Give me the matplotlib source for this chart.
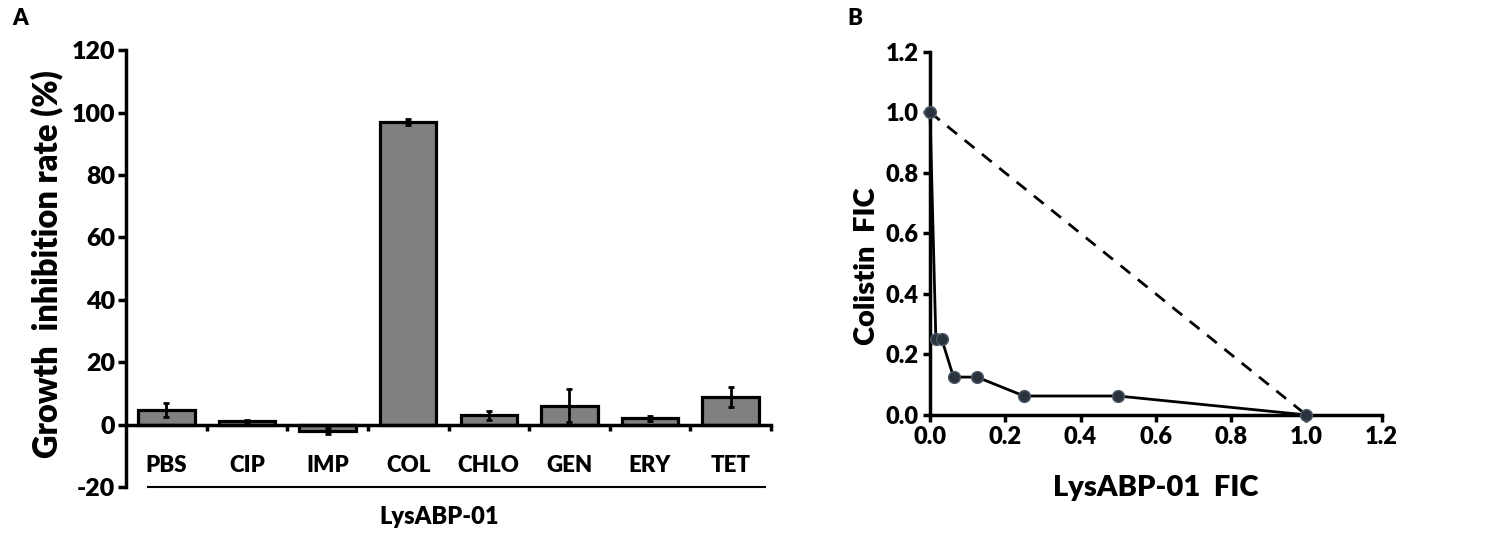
import matplotlib.pyplot as plt
import numpy as np

plt.rcParams['font.family'] = ['Lato', 'DejaVu Sans']
plt.rcParams['font.weight'] = 'heavy'
plt.rcParams['axes.unicode_minus'] = False

# panel A data
drugs = ["PBS", "CIP", "IMP", "COL", "CHLO", "GEN", "ERY", "TET"]
inhibition = [4.7, 1.1, -2.0, 97.0, 3.0, 6.1, 2.0, 9.0]
inhibition_err = [2.3, 0.5, 1.0, 1.0, 1.4, 5.2, 0.8, 3.2]

# panel B data (isobologram)
lys_fic = [0.0, 0.0156, 0.03125, 0.0625, 0.125, 0.25, 0.5, 1.0]
col_fic = [1.0, 0.25, 0.25, 0.125, 0.125, 0.0625, 0.0625, 0.0]
additive_x = [0.0, 1.0]
additive_y = [1.0, 0.0]

W = 'heavy'
fig = plt.figure(figsize=(15, 5.34), dpi=100)

# ---- panel A ----
ax1 = fig.add_axes([0.084, 0.088, 0.430, 0.818])
x = np.arange(len(drugs))
ax1.bar(x, inhibition, width=0.7, color="#808080", edgecolor="black", linewidth=2.3, zorder=2)
ax1.errorbar(x, inhibition, yerr=inhibition_err, fmt="none", ecolor="black",
             elinewidth=2, capsize=2.5, capthick=2, zorder=3)
ax1.set_xlim(-0.5, 7.5)
ax1.set_ylim(-20, 120)
ax1.set_yticks(np.arange(-20, 121, 20))
ax1.spines['top'].set_visible(False)
ax1.spines['right'].set_visible(False)
ax1.spines['bottom'].set_position(('data', 0))
ax1.spines['left'].set_linewidth(2.5)
ax1.spines['bottom'].set_linewidth(2.5)
ax1.set_xticks(np.arange(0.5, 8, 1))
ax1.set_xticklabels([])
ax1.tick_params(axis='x', direction='out', length=4, width=2.5)
ax1.tick_params(axis='y', direction='out', length=6, width=2.5, labelsize=18, pad=2)
for lab in ax1.get_yticklabels():
    lab.set_fontweight(W)
for i, d in enumerate(drugs):
    ax1.text(i, -13, d, ha='center', va='center', fontsize=16, fontweight=W)
ax1.plot([-0.23, 7.42], [-20, -20], color="black", lw=1.5, clip_on=False)
ax1.text(3.38, -29.5, "LysABP-01", ha='center', va='center', fontsize=17, fontweight=W)
ax1.set_ylabel("Growth  inhibition rate (%)", fontsize=23.5, fontweight=W)
ax1.yaxis.set_label_coords(-0.097, 0.51)
fig.text(0.008, 0.953, "A", fontsize=16, fontweight=W)

# ---- panel B ----
ax2 = fig.add_axes([0.620, 0.223, 0.301, 0.680])
ax2.plot(additive_x, additive_y, color="black", lw=2, linestyle=(0, (4.5, 3.5)), zorder=2)
ax2.plot(lys_fic, col_fic, color="black", lw=2, marker='o', markersize=8.5,
         markerfacecolor="#2a323e", markeredgecolor="#4a5868", markeredgewidth=1, zorder=3,
         clip_on=False)
ax2.set_xlim(0, 1.2)
ax2.set_ylim(0, 1.2)
ax2.set_xticks(np.arange(0, 1.21, 0.2))
ax2.set_yticks(np.arange(0, 1.21, 0.2))
ax2.xaxis.set_major_formatter(plt.FormatStrFormatter('%.1f'))
ax2.yaxis.set_major_formatter(plt.FormatStrFormatter('%.1f'))
ax2.spines['top'].set_visible(False)
ax2.spines['right'].set_visible(False)
ax2.spines['left'].set_linewidth(2.5)
ax2.spines['bottom'].set_linewidth(2.5)
ax2.tick_params(direction='out', length=5, width=2.5, labelsize=17, pad=3)
for lab in ax2.get_xticklabels() + ax2.get_yticklabels():
    lab.set_fontweight(W)
ax2.set_xlabel("LysABP-01  FIC", fontsize=21, fontweight=W)
ax2.xaxis.set_label_coords(0.5, -0.165)
ax2.set_ylabel("Colistin  FIC", fontsize=21, fontweight=W)
ax2.yaxis.set_label_coords(-0.11, 0.41)
fig.text(0.565, 0.953, "B", fontsize=16, fontweight=W)

fig.savefig("out.png", dpi=100)
